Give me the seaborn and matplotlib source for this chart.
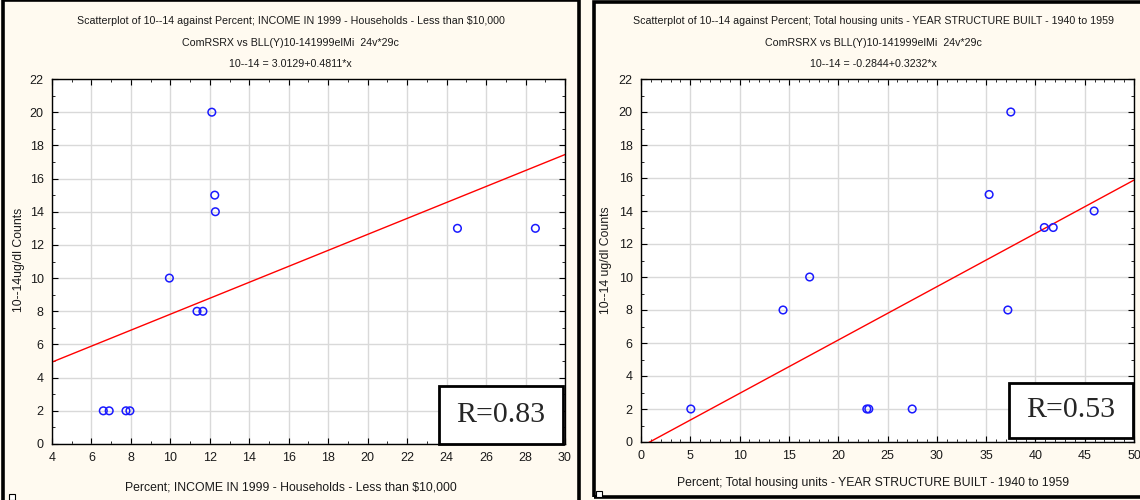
import numpy as np
import pandas as pd
import matplotlib
matplotlib.use("Agg")
import matplotlib.pyplot as plt
from matplotlib.patches import Rectangle
from matplotlib.ticker import MultipleLocator
import seaborn as sns

# ---- data -------------------------------------------------------------
income_pct = [6.6, 6.9, 7.75, 7.95, 9.95, 11.35, 11.65, 12.1, 12.25, 12.28, 24.55, 28.5]
income_cnt = [2, 2, 2, 2, 10, 8, 8, 20, 15, 14, 13, 13]

housing_pct = [5.05, 14.4, 17.1, 22.9, 23.1, 27.5, 37.2, 37.5, 35.3, 40.9, 41.8, 45.95]
housing_cnt = [2, 8, 10, 2, 2, 2, 8, 20, 15, 13, 13, 14]

income_fit = (3.0129, 0.4811)
housing_fit = (-0.2844, 0.3232)

income_r = "R=0.83"
housing_r = "R=0.53"

titles_left = ["Scatterplot of 10--14 against Percent; INCOME IN 1999 - Households - Less than $10,000",
               "ComRSRX vs BLL(Y)10-141999elMi  24v*29c",
               "10--14 = 3.0129+0.4811*x"]
titles_right = ["Scatterplot of 10--14 against Percent; Total housing units - YEAR STRUCTURE BUILT - 1940 to 1959",
                "ComRSRX vs BLL(Y)10-141999elMi  24v*29c",
                "10--14 = -0.2844+0.3232*x"]
xlabel_left = "Percent; INCOME IN 1999 - Households - Less than $10,000"
xlabel_right = "Percent; Total housing units - YEAR STRUCTURE BUILT - 1940 to 1959"
ylabel_left = "10--14ug/dl Counts"
ylabel_right = "10--14 ug/dl Counts"

# ---- style ------------------------------------------------------------
sns.set_theme(style="whitegrid")
plt.rcParams["font.family"] = ["Liberation Sans", "DejaVu Sans"]
BG = "#FFFAF0"
INK = "#1a1a1a"

fig = plt.figure(figsize=(11.4, 5.0), dpi=100, facecolor=BG)

# panel frames
for (x0, y0, w, h) in [(0.003, -0.01, 0.505, 1.01), (0.521, 0.006, 0.49, 0.99)]:
    fig.add_artist(Rectangle((x0, y0), w, h, transform=fig.transFigure,
                             fill=False, edgecolor="black", linewidth=2.6, zorder=0))
# small handles at the lower-left corners of the panels
for (x0, y0) in [(0.0075, 0.0), (0.523, 0.006)]:
    fig.add_artist(Rectangle((x0, y0), 0.0055, 0.013, transform=fig.transFigure,
                             fill=True, facecolor="white", edgecolor="black", linewidth=0.8))

ax1 = fig.add_axes([0.0456, 0.112, 0.450, 0.730])
ax2 = fig.add_axes([0.5623, 0.116, 0.4325, 0.726])


def draw_panel(ax, xs, ys, fit, xlim, xmaj, xmin, rtxt, box, titles, xlabel, ylabel,
               cx, ylab_x, xlab_y):
    df = pd.DataFrame({"x": xs, "y": ys})
    ax.set_facecolor("white")
    sns.scatterplot(data=df, x="x", y="y", ax=ax, marker="o", s=30,
                    facecolor="none", edgecolor="#1a1aff", linewidth=1.1, zorder=3)
    xx = np.array(xlim, dtype=float)
    sns.lineplot(x=xx, y=fit[0] + fit[1] * xx, ax=ax, color="red",
                 linewidth=1.0, zorder=2)
    ax.set_xlim(*xlim)
    ax.set_ylim(0, 22)
    ax.xaxis.set_major_locator(MultipleLocator(xmaj))
    ax.xaxis.set_minor_locator(MultipleLocator(xmin))
    ax.yaxis.set_major_locator(MultipleLocator(2))
    ax.yaxis.set_minor_locator(MultipleLocator(1))
    ax.grid(True, which="major", color="#d9d9d9", linewidth=1.0)
    ax.grid(False, which="minor")
    ax.tick_params(which="both", direction="in", top=True, right=True,
                   bottom=True, left=True, color="black")
    ax.tick_params(which="major", length=4, width=0.8, labelsize=9, pad=6,
                   labelcolor=INK)
    ax.tick_params(which="minor", length=2, width=0.6)
    for sp in ax.spines.values():
        sp.set_color("black")
        sp.set_linewidth(1.0)
    ax.set_xlabel("")
    ax.set_ylabel("")
    fig.text(cx, xlab_y, xlabel, ha="center", va="center",
             fontsize=8.8, color=INK)
    fig.text(ylab_x, 0.48, ylabel, rotation=90, ha="center", va="center",
             fontsize=8.8, color=INK)
    for i, t in enumerate(titles):
        fig.text(cx, 0.958 - i * 0.043, t, ha="center", va="center",
                 fontsize=7.7, color=INK)
    # correlation box
    bx0, by0, bx1, by1 = box
    ax.add_patch(Rectangle((bx0, by0), bx1 - bx0, by1 - by0, transform=ax.transAxes,
                           facecolor="white", edgecolor="black", linewidth=2.0,
                           zorder=5, clip_on=False))
    ax.text((bx0 + bx1) / 2, (by0 + by1) / 2, rtxt, transform=ax.transAxes,
            ha="center", va="center", fontsize=21.5,
            family=["Liberation Serif", "DejaVu Serif"], zorder=6)


draw_panel(ax1, income_pct, income_cnt, income_fit, (4, 30), 2, 1, income_r,
           (0.754, 0.0, 0.996, 0.16), titles_left, xlabel_left, ylabel_left,
           0.255, 0.017, 0.026)
draw_panel(ax2, housing_pct, housing_cnt, housing_fit, (0, 50), 5, 1, housing_r,
           (0.746, 0.011, 0.997, 0.163), titles_right, xlabel_right, ylabel_right,
           0.766, 0.532, 0.034)

fig.savefig("out.png", dpi=100, facecolor=BG)
